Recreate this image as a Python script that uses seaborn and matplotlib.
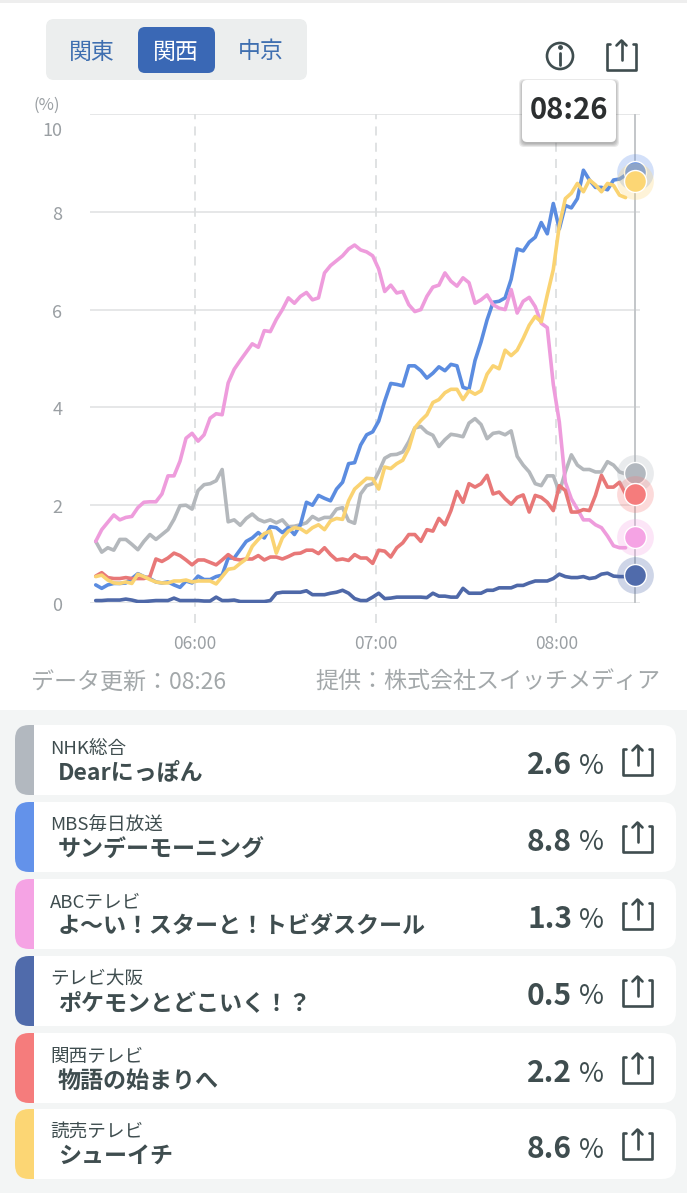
import numpy as np
import pandas as pd
import matplotlib
matplotlib.use("Agg")
import matplotlib.pyplot as plt
from matplotlib.patches import FancyBboxPatch, Rectangle, Circle
from matplotlib.transforms import ScaledTranslation
import seaborn as sns

sns.set_theme(style="white")
plt.rcParams["font.family"] = ["Noto Sans CJK JP", "DejaVu Sans"]

# minutes after midnight, one reading every 2 min (05:27 .. 08:23)
minutes = list(range(327, 505, 2))

nhk = [1.26, 1.04, 1.13, 1.08, 1.30, 1.30, 1.20, 1.09, 1.26, 1.40,
       1.30, 1.40, 1.50, 1.71, 1.99, 2.00, 1.92, 2.30, 2.42, 2.44,
       2.50, 2.73, 1.66, 1.70, 1.59, 1.73, 1.82, 1.71, 1.66, 1.70,
       1.64, 1.70, 1.56, 1.57, 1.60, 1.64, 1.77, 1.70, 1.75, 1.75,
       1.92, 1.95, 1.68, 1.63, 2.23, 2.40, 2.44, 2.68, 2.96, 3.03,
       3.04, 3.09, 3.30, 3.58, 3.61, 3.49, 3.43, 3.20, 3.34, 3.45,
       3.43, 3.40, 3.68, 3.77, 3.65, 3.36, 3.47, 3.49, 3.44, 3.52,
       3.00, 2.82, 2.68, 2.44, 2.40, 2.60, 2.60, 2.27, 2.68, 3.03,
       2.82, 2.73, 2.73, 2.68, 2.68, 2.89, 2.82, 2.68, 2.64]
mbs = [0.37, 0.30, 0.37, 0.40, 0.40, 0.41, 0.50, 0.60, 0.54, 0.50,
       0.43, 0.41, 0.43, 0.37, 0.32, 0.45, 0.41, 0.55, 0.48, 0.48,
       0.54, 0.57, 0.92, 0.92, 1.09, 1.26, 1.33, 1.44, 1.33, 1.56,
       1.54, 1.44, 1.54, 1.40, 1.60, 2.06, 2.00, 2.20, 2.14, 2.09,
       2.33, 2.47, 2.85, 2.87, 3.23, 3.44, 3.50, 3.72, 4.13, 4.49,
       4.47, 4.44, 4.85, 4.85, 4.75, 4.60, 4.70, 4.83, 4.75, 4.88,
       4.85, 4.41, 4.37, 4.96, 5.34, 5.79, 6.15, 6.17, 6.24, 6.62,
       7.24, 7.20, 7.38, 7.48, 7.78, 7.55, 8.17, 7.65, 8.13, 8.08,
       8.27, 8.85, 8.65, 8.50, 8.50, 8.45, 8.65, 8.67, 8.75]
abc = [1.26, 1.50, 1.65, 1.80, 1.70, 1.75, 1.77, 1.95, 2.06, 2.07,
       2.07, 2.23, 2.60, 2.60, 2.90, 3.37, 3.47, 3.31, 3.44, 3.78,
       3.87, 3.85, 4.50, 4.78, 4.96, 5.13, 5.30, 5.23, 5.57, 5.55,
       5.80, 6.00, 6.24, 6.13, 6.27, 6.35, 6.20, 6.24, 6.75, 6.90,
       7.00, 7.10, 7.24, 7.32, 7.22, 7.18, 7.10, 6.83, 6.37, 6.50,
       6.34, 6.37, 6.10, 5.96, 6.00, 6.27, 6.46, 6.50, 6.75, 6.58,
       6.48, 6.65, 6.55, 6.13, 6.20, 6.30, 6.10, 6.03, 6.00, 6.41,
       5.93, 6.17, 6.25, 6.06, 5.72, 5.63, 4.47, 3.70, 2.47, 2.13,
       1.92, 1.70, 1.70, 1.60, 1.54, 1.37, 1.17, 1.13, 1.13]
tv_osaka = [0.05, 0.05, 0.06, 0.06, 0.06, 0.08, 0.06, 0.03, 0.03, 0.04,
            0.05, 0.05, 0.05, 0.10, 0.05, 0.05, 0.05, 0.05, 0.04, 0.04,
            0.12, 0.05, 0.05, 0.06, 0.03, 0.03, 0.03, 0.03, 0.03, 0.05,
            0.20, 0.22, 0.22, 0.22, 0.22, 0.25, 0.17, 0.17, 0.17, 0.20,
            0.22, 0.26, 0.20, 0.09, 0.05, 0.05, 0.12, 0.20, 0.09, 0.10,
            0.12, 0.12, 0.12, 0.12, 0.12, 0.11, 0.20, 0.14, 0.14, 0.12,
            0.12, 0.30, 0.20, 0.20, 0.20, 0.26, 0.26, 0.31, 0.31, 0.31,
            0.36, 0.36, 0.41, 0.45, 0.45, 0.45, 0.50, 0.59, 0.54, 0.52,
            0.52, 0.54, 0.50, 0.52, 0.59, 0.61, 0.55, 0.54, 0.54]
ktv = [0.55, 0.62, 0.52, 0.50, 0.50, 0.52, 0.50, 0.50, 0.50, 0.54,
       0.90, 0.85, 0.92, 1.02, 0.97, 0.88, 0.78, 0.88, 0.88, 0.83,
       0.78, 0.88, 0.99, 0.90, 0.88, 0.90, 0.90, 0.97, 0.88, 0.94,
       0.94, 0.90, 0.95, 1.01, 1.02, 1.08, 1.08, 1.01, 1.13, 0.99,
       0.88, 0.90, 0.87, 0.99, 0.92, 0.92, 0.81, 1.08, 1.06, 0.94,
       1.13, 1.23, 1.40, 1.40, 1.26, 1.50, 1.47, 1.73, 1.60, 1.89,
       2.28, 2.06, 2.44, 2.37, 2.44, 2.61, 2.23, 2.27, 2.13, 2.02,
       2.16, 2.21, 1.86, 2.20, 2.16, 2.06, 1.89, 2.40, 2.30, 1.86,
       1.86, 1.91, 1.89, 2.20, 2.61, 2.37, 2.37, 2.47, 2.23]
ytv = [0.54, 0.57, 0.47, 0.41, 0.40, 0.43, 0.40, 0.59, 0.54, 0.48,
       0.43, 0.41, 0.41, 0.45, 0.45, 0.47, 0.43, 0.45, 0.45, 0.45,
       0.39, 0.54, 0.69, 0.71, 0.81, 0.90, 1.16, 1.30, 1.42, 1.47,
       1.02, 1.33, 1.47, 1.54, 1.52, 1.44, 1.54, 1.60, 1.50, 1.68,
       1.73, 1.71, 2.09, 2.33, 2.44, 2.55, 2.54, 2.33, 2.78, 2.75,
       2.85, 2.92, 3.16, 3.58, 3.73, 3.85, 4.10, 4.16, 4.30, 4.37,
       4.37, 4.16, 4.34, 4.27, 4.34, 4.68, 4.85, 4.79, 5.17, 5.06,
       5.17, 5.41, 5.68, 5.86, 5.75, 6.30, 6.82, 7.72, 8.27, 8.38,
       8.58, 8.41, 8.65, 8.55, 8.41, 8.58, 8.54, 8.34, 8.29]

channels = ["NHK総合", "MBS毎日放送", "ABCテレビ", "テレビ大阪", "関西テレビ", "読売テレビ"]
programs = ["Dearにっぽん", "サンデーモーニング", "よ〜い！スターと！トビダスクール",
            "ポケモンとどこいく！？", "物語の始まりへ", "シューイチ"]
shares = ["2.6", "8.8", "1.3", "0.5", "2.2", "8.6"]
# where the 08:26 dots sit on the chart
end_values = [2.66, 8.81, 1.35, 0.57, 2.23, 8.63]
end_minute = 506
colors = ["#b2b8bf", "#6392ea", "#f5a3e4", "#506bab", "#f57c7c", "#fcd674"]
line_colors = ["#b4b8bc", "#5b8ce0", "#ee9cdc", "#4e68a8", "#e87878", "#fad372"]
row_tops = [725, 802, 879, 956, 1033, 1109]

GRID = "#e6e7e8"
TICK = "#9a9fa3"
DARK = "#3f4d4f"
FOOT = "#a3a8aa"


def share_icon(ui, cx, cy, color=DARK, w=29, h=29, lw=1.9):
    # open-topped tray with an arrow through it
    left, right = cx - w / 2, cx + w / 2
    top, bot = cy - h / 2 + 3, cy + h / 2
    ui.plot([left + 3, left, left, right, right, right - 3],
            [top, top, bot, bot, top, top], color=color, lw=lw, solid_joinstyle="round")
    ui.plot([cx, cx], [cy - h / 2, cy + 5], color=color, lw=lw)
    ui.plot([cx - 5, cx, cx + 5], [cy - h / 2 + 5, cy - h / 2, cy - h / 2 + 5], color=color, lw=lw)


df = pd.concat([
    pd.DataFrame({"minute": minutes, "rating": vals, "channel": ch})
    for ch, vals in zip(channels, [nhk, mbs, abc, tv_osaka, ktv, ytv])
])

fig = plt.figure(figsize=(6.87, 12), dpi=100, facecolor="white")

# page furniture in pixel coordinates
ui = fig.add_axes([0, 0, 1, 1], zorder=0)
ui.set_xlim(0, 687)
ui.set_ylim(1200, 0)
ui.axis("off")
ui.add_patch(Rectangle((0, 0), 687, 3, color="#eeeeee", lw=0))
ui.add_patch(Rectangle((0, 710), 687, 483, color="#f3f5f5", lw=0))

ui.add_patch(FancyBboxPatch((52, 25), 249, 49, boxstyle="round,pad=6,rounding_size=8",
                            fc="#eceeee", ec="none"))
ui.add_patch(FancyBboxPatch((143, 32), 67, 36, boxstyle="round,pad=5,rounding_size=7",
                            fc="#3a68b5", ec="none"))
for x, label, col in [(92, "関東", "#3f6fb0"), (176, "関西", "white"), (261, "中京", "#3f6fb0")]:
    ui.text(x, 52, label, ha="center", va="center", fontsize=16.5, color=col)

ui.add_patch(Circle((560, 56), 13, fc="none", ec=DARK, lw=1.9))
ui.plot([560, 560], [53, 65], color=DARK, lw=2)
ui.plot([560], [47], "o", color=DARK, ms=2.5)
share_icon(ui, 621.5, 55)

ui.text(31, 682, "データ更新：08:26", fontsize=16.6, color=FOOT, va="center")
ui.text(660, 682, "提供：株式会社スイッチメディア", fontsize=16.6, color=FOOT, va="center", ha="right")

for top, ch, prog, val, col in zip(row_tops, channels, programs, shares, colors):
    card = FancyBboxPatch((21, top + 6), 649, 58, boxstyle="round,pad=6,rounding_size=14",
                          fc="white", ec="none")
    ui.add_patch(card)
    strip = Rectangle((15, top), 19, 70, color=col, lw=0)
    ui.add_patch(strip)
    strip.set_clip_path(card)
    ui.text(50, top + 24, ch, fontsize=13.4, color=DARK, va="center")
    ui.text(58, top + 48, prog, fontsize=16.6, fontweight="bold", color=DARK, va="center")
    ui.text(572, top + 40, val, fontsize=21.5, fontweight="bold", color=DARK, va="center", ha="right")
    ui.text(579, top + 41, "%", fontsize=19.5, color=DARK, va="center")
    share_icon(ui, 637.5, top + 35)

# chart
ax = fig.add_axes([90 / 687, (1200 - 603) / 1200, 550 / 687, 489 / 1200], zorder=1)
ax.patch.set_alpha(0)
sns.lineplot(data=df, x="minute", y="rating", hue="channel", hue_order=channels,
             palette=line_colors, linewidth=2.6, errorbar=None, legend=False, ax=ax,
             solid_joinstyle="round", zorder=3)
ax.set_xlim(325.1, 507.8)
ax.set_ylim(0, 10)
ax.set_xlabel("")
ax.set_ylabel("")
sns.despine(ax=ax, left=True, bottom=True)

ax.set_yticks([0, 2, 4, 6, 8, 10])
ax.set_yticklabels(["0", "2", "4", "6", "8", ""])
ax.set_xticks([360, 420, 480])
ax.set_xticklabels(["06:00", "07:00", "08:00"])
ax.tick_params(axis="x", length=0, pad=23, labelsize=12.5, labelcolor=TICK)
ax.tick_params(axis="y", length=0, pad=20, labelsize=13, labelcolor=TICK)
nudge = ScaledTranslation(0, -1 / 100, fig.dpi_scale_trans)
for label in ax.get_yticklabels():
    label.set_transform(label.get_transform() + nudge)
ax.grid(axis="y", color=GRID, lw=1.4)
ax.set_axisbelow(True)
ax.vlines([360, 420, 480], -0.4, 10, color="#dddfe0", lw=1.3, linestyles=(0, (5, 4)),
          clip_on=False, zorder=1)
ax.vlines([end_minute], 0, 10, color="#c3c6c9", lw=1.4, zorder=2)
ax.annotate("10", (0, 1), xycoords="axes fraction", xytext=(-20, -12), textcoords="offset points",
            ha="right", va="center", fontsize=13, color=TICK)
ax.annotate("(%)", (0, 1), xycoords="axes fraction", xytext=(-31, 6), textcoords="offset points",
            ha="center", va="center", fontsize=12, color=TICK)

# each halo washes over the dots drawn before it
for i, (val, col) in enumerate(zip(end_values, colors)):
    ax.scatter([end_minute], [val], s=700, color=col, alpha=0.28, lw=0, clip_on=False, zorder=4 + 2 * i)
    ax.scatter([end_minute], [val], s=250, color=col, edgecolor="white", lw=1, clip_on=False, zorder=5 + 2 * i)

# time tooltip on top of everything
tip = fig.add_axes([0, 0, 1, 1], zorder=2)
tip.set_xlim(0, 687)
tip.set_ylim(1200, 0)
tip.axis("off")
tip.patch.set_alpha(0)
for grow in [4, 3, 2, 1]:
    tip.add_patch(FancyBboxPatch((528 - grow, 88 - grow), 82 + 2 * grow, 50 + 2 * grow,
                                 boxstyle="round,pad=5,rounding_size=5",
                                 fc="#555555", ec="none", alpha=0.13))
tip.add_patch(FancyBboxPatch((527, 85), 84, 52, boxstyle="round,pad=5,rounding_size=5",
                             fc="white", ec="none"))
tip.text(569, 110, "08:26", fontsize=21, fontweight="bold", color="#2c2f30", ha="center", va="center")

fig.savefig("out.png", dpi=100)
